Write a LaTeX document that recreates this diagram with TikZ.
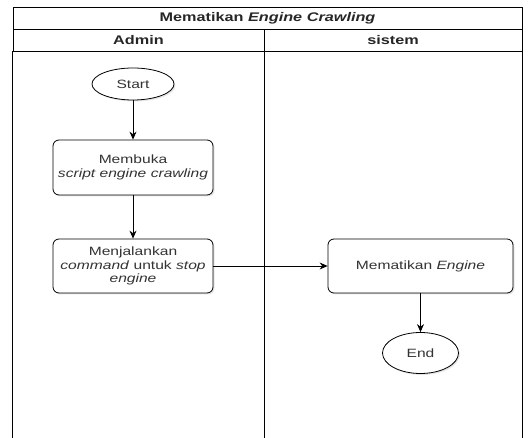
\documentclass[tikz,border=0pt]{standalone}
\usepackage{fontspec}
\setmainfont{Liberation Sans}[FakeStretch=1.3]
\usetikzlibrary{shapes.geometric,shadows,arrows.meta}

\begin{document}
\begin{tikzpicture}[x=1pt, y=-1pt, >={Stealth[length=8pt,width=7pt]},
    lane/.style={ draw, line width=0.8pt, minimum height=22pt,
    inner sep=0pt, text=black!85, font=\bfseries\fontsize{12.5}{14}\selectfont },
    terminal/.style={ ellipse, draw, fill=white, line width=0.8pt,
    minimum width=82pt, minimum height=32pt, inner sep=0pt, text=black!80,
    drop shadow={opacity=0.2, shadow xshift=1.5pt, shadow yshift=-1.5pt},
    font=\fontsize{12}{14}\selectfont },
    process/.style={ draw, fill=white, rounded corners=6pt,
    line width=0.8pt, minimum width=160pt, minimum height=55pt,
    align=center, inner sep=1pt, text=black!80,
    drop shadow={opacity=0.2, shadow xshift=1.5pt, shadow yshift=-1.5pt},
    font=\fontsize{12}{13.5}\selectfont },
    flow/.style={ ->, line width=0.8pt } ]
  \useasboundingbox (0,0) rectangle (528,438);
  % swimlane
  \node[lane, minimum width=509pt] (title) at (267.5,18)
    {Mematikan \textit{Engine Crawling}};
  \node[lane, minimum width=251pt] (admin) at (138.5,40) {Admin};
  \node[lane, minimum width=258pt] (sistem) at (393,40) {sistem};
  \draw[line width=0.8pt] (admin.south west) -- ++(0,390)
    (admin.south east) -- ++(0,390) (sistem.south east) -- ++(0,390);
  % steps
  \node[terminal] (start) at (133,84) {Start};
  \node[process] (buka) at (133,167.5) {Membuka\\\textit{script engine crawling}};
  \node[process, minimum height=54pt] (jalan) at (133,266)
    {Menjalankan\\\textit{command} untuk \textit{stop}\\\textit{engine}};
  \node[process, minimum width=185pt, minimum height=54pt] (matikan) at (420.5,266)
    {Mematikan \textit{Engine}};
  \node[terminal, minimum width=76pt, minimum height=41pt] (end) at (420.5,353) {End};
  \draw[flow] (start) -- (buka);
  \draw[flow] (buka) -- (jalan);
  \draw[flow] (jalan) -- (matikan);
  \draw[flow] (matikan) -- (end);
\end{tikzpicture}
\end{document}
